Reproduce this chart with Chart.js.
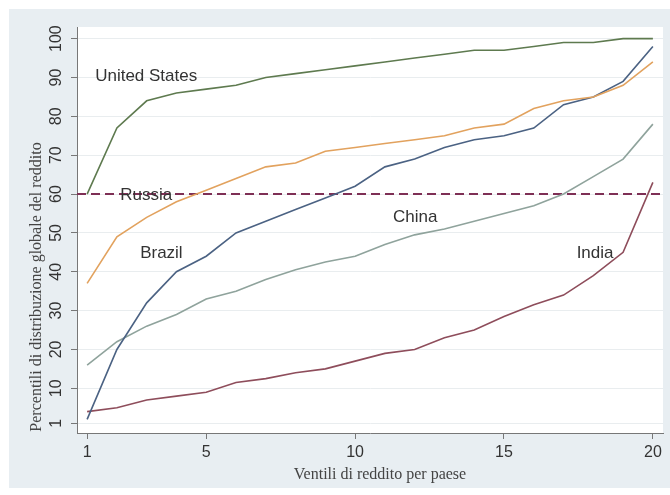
<!DOCTYPE html>
<html>
<head>
<meta charset="utf-8">
<script src="https://cdn.jsdelivr.net/npm/chart.js@4/dist/chart.umd.min.js"></script>
<style>
  body { margin: 0; background: #fff; }
  #wrap { width: 670px; height: 495px; }
</style>
</head>
<body>
<div id="wrap"><canvas id="ventiliChart" width="670" height="495"></canvas></div>
<script>
// ventili di reddito (1-20) and percentile of global distribution per country
const ventili = [1,2,3,4,5,6,7,8,9,10,11,12,13,14,15,16,17,18,19,20];
const unitedStates = [60,77,84,86,87,88,90,91,92,93,94,95,96,97,97,98,99,99,100,100];
const russia = [37,49,54,58,61,64,67,68,71,72,73,74,75,77,78,82,84,85,88,94];
const brazil = [2,20,32,40,44,50,53,56,59,62,67,69,72,74,75,77,83,85,89,98];
const china = [16,22,26,29,33,35,38,40.5,42.5,44,47,49.5,51,53,55,57,60,64.5,69,78];
const india = [4,5,7,8,9,11.5,12.5,14,15,17,19,20,23,25,28.5,31.5,34,39,45,63];
const yTicks = [1,10,20,30,40,50,60,70,80,90,100];
const xTicks = [1,5,10,15,20];
const referenceLine = 60;

const countries = ['United States','Russia','Brazil','China','India'];
const colors = ['#5e7a4f','#e2a25e','#4b6283','#8fa39c','#8e4d5b'];
// where each country name sits, in data units
const labelAt = [[1.27,90.2],[2.11,59.8],[2.78,44.8],[11.27,53.9],[17.44,44.8]];

const series = [unitedStates, russia, brazil, china, india];
const datasets = series.map((vals, i) => ({
  label: countries[i],
  data: vals.map((v, j) => ({ x: ventili[j], y: v })),
  borderColor: colors[i],
  borderWidth: 1.6,
  pointRadius: 0,
  tension: 0,
  fill: false
}));

const decor = {
  id: 'decor',
  beforeDraw(chart) {
    const { ctx, chartArea: a } = chart;
    ctx.save();
    ctx.fillStyle = '#e8eef2';
    ctx.fillRect(9, 9, 661, 479);
    ctx.fillStyle = '#ffffff';
    ctx.fillRect(a.left, a.top, a.right - a.left, a.bottom - a.top);
    ctx.restore();
  },
  beforeDatasetsDraw(chart) {
    const { ctx, chartArea: a, scales } = chart;
    const y = scales.y.getPixelForValue(referenceLine);
    ctx.save();
    ctx.strokeStyle = '#7e2f55';
    ctx.lineWidth = 2;
    ctx.setLineDash([9, 5]);
    ctx.beginPath();
    ctx.moveTo(a.left, y);
    ctx.lineTo(a.right, y);
    ctx.stroke();
    ctx.restore();
  },
  afterDraw(chart) {
    const { ctx, chartArea: a, scales } = chart;
    ctx.save();
    ctx.fillStyle = '#333';
    ctx.font = '17px "Liberation Sans", Arial, sans-serif';
    ctx.textAlign = 'left';
    ctx.textBaseline = 'middle';
    labelAt.forEach((p, i) => {
      ctx.fillText(countries[i], scales.x.getPixelForValue(p[0]), scales.y.getPixelForValue(p[1]));
    });
    // axis titles
    ctx.fillStyle = '#444';
    ctx.font = '16px "Liberation Serif", "Times New Roman", serif';
    ctx.textAlign = 'center';
    ctx.fillText('Ventili di reddito per paese', (a.left + a.right) / 2 + 10, a.bottom + 42);
    ctx.translate(37, a.bottom - 146);
    ctx.rotate(-Math.PI / 2);
    ctx.fillText('Percentili di distribuzione globale del reddito', 0, 0);
    ctx.restore();
  }
};

new Chart(document.getElementById('ventiliChart'), {
  type: 'line',
  data: { datasets },
  options: {
    responsive: false,
    animation: false,
    layout: { padding: { left: 0, top: 27, right: 7, bottom: 0 } },
    plugins: { legend: { display: false }, tooltip: { enabled: false } },
    scales: {
      x: {
        type: 'linear',
        min: 0.66,
        max: 20.34,
        afterBuildTicks: s => { s.ticks = xTicks.map(v => ({ value: v })); },
        afterFit: s => { s.height = 62; },
        ticks: { color: '#333', padding: 4, font: { size: 16, family: '"Liberation Sans", Arial, sans-serif' } },
        grid: { drawOnChartArea: false, tickColor: '#777', tickLength: 6 },
        border: { color: '#777', width: 1 }
      },
      y: {
        type: 'linear',
        min: -1.5,
        max: 103,
        afterBuildTicks: s => { s.ticks = yTicks.map(v => ({ value: v })); },
        afterFit: s => { s.width = 77; },
        ticks: {
          color: '#333', padding: 1, minRotation: 90, maxRotation: 90, crossAlign: 'center',
          font: { size: 16, family: '"Liberation Sans", Arial, sans-serif' }
        },
        grid: { color: '#e9edef', tickColor: '#777', tickLength: 6 },
        border: { color: '#777', width: 1 }
      }
    }
  },
  plugins: [decor]
});
</script>
</body>
</html>
